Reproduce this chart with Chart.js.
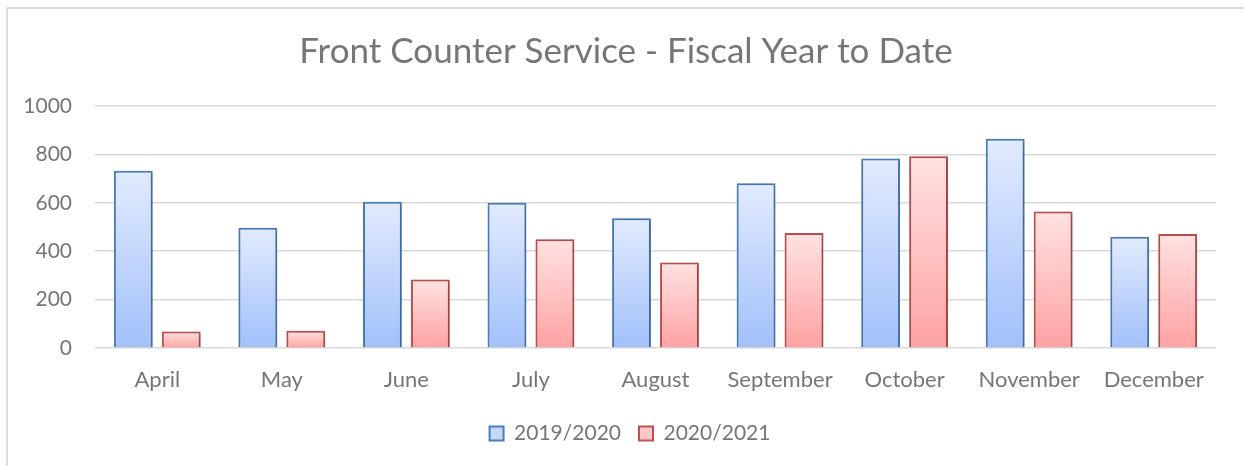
<!DOCTYPE html>
<html>
<head>
<meta charset="utf-8">
<script src="https://cdn.jsdelivr.net/npm/chart.js@4"></script>
<style>
html,body{margin:0;padding:0;background:#fff;}
#wrap{position:relative;width:1244px;height:466px;overflow:hidden;}
#frame{position:absolute;left:6px;top:7px;width:1400px;height:600px;border:2px solid #dcdcdc;box-sizing:border-box;}
canvas{position:absolute;left:0;top:0;}
</style>
</head>
<body>
<div id="wrap">
<div id="frame"></div>
<canvas id="c" width="1244" height="466"></canvas>
</div>
<script>
const categories = ["April","May","June","July","August","September","October","November","December"];
const series2019 = [732, 497, 604, 600, 536, 681, 783, 865, 460];
const series2020 = [68, 71, 283, 449, 353, 475, 792, 564, 471];
const seriesLabels = ["2019/2020", "2020/2021"];
const yTicks = [0, 200, 400, 600, 800, 1000];

const TEXT = '#767676';
const FONT = 'Lato, "Open Sans", sans-serif';

function grad(top, bottom, legendColor) {
  return function(ctx) {
    if (ctx.type !== 'data') return legendColor;
    const ch = ctx.chart, ys = ch.scales.y;
    if (!ys || !ch.chartArea) return legendColor;
    const y0 = ys.getPixelForValue(ctx.raw);
    const y1 = ys.getPixelForValue(0);
    if (!isFinite(y0) || !isFinite(y1) || y0 === y1) return legendColor;
    const g = ch.ctx.createLinearGradient(0, y0, 0, y1);
    g.addColorStop(0, top);
    g.addColorStop(1, bottom);
    return g;
  };
}

const shadowPlugin = {
  id: 'shadow',
  afterLayout(chart) {
    if (chart.legend) { chart.legend.left += 22; chart.legend.right += 22; }
    if (chart.titleBlock) { chart.titleBlock.left += 18; chart.titleBlock.right += 18; }
  },
  beforeDatasetsDraw(chart) {
    const c = chart.ctx;
    c.save();
    c.shadowColor = 'rgba(0,0,0,0.28)';
    c.shadowBlur = 4;
    c.shadowOffsetX = 1;
    c.shadowOffsetY = 1;
  },
  afterDatasetsDraw(chart) { chart.ctx.restore(); }
};

new Chart(document.getElementById('c'), {
  type: 'bar',
  data: {
    labels: categories,
    datasets: [
      {
        label: seriesLabels[0],
        data: series2019,
        backgroundColor: grad('#e1ebfd', '#a2c0fb', '#c6d9fc'),
        borderColor: '#4a7ebb',
        borderWidth: 2,
        borderSkipped: 'bottom',
        categoryPercentage: 0.77,
        barPercentage: 0.81
      },
      {
        label: seriesLabels[1],
        data: series2020,
        backgroundColor: grad('#ffe2e2', '#ffa2a2', '#ffc8c8'),
        borderColor: '#c0504d',
        borderWidth: 2,
        borderSkipped: 'bottom',
        categoryPercentage: 0.77,
        barPercentage: 0.81
      }
    ]
  },
  options: {
    responsive: false,
    animation: false,
    layout: { padding: { left: 0, right: 28, top: 0, bottom: 12 } },
    plugins: {
      tooltip: { enabled: false },
      title: {
        display: true,
        text: 'Front Counter Service - Fiscal Year to Date',
        color: TEXT,
        font: { family: FONT, size: 35, weight: 'normal', lineHeight: 1.2 },
        padding: { top: 31, bottom: 33 }
      },
      legend: {
        position: 'bottom',
        labels: {
          color: TEXT,
          font: { family: FONT, size: 21 },
          boxWidth: 14,
          boxHeight: 14,
          padding: 18,
          generateLabels(chart) {
            return chart.data.datasets.map((ds, i) => ({
              text: ds.label,
              fillStyle: i === 0 ? '#c6d9fc' : '#ffc8c8',
              strokeStyle: ds.borderColor,
              lineWidth: 2,
              hidden: false,
              datasetIndex: i,
              fontColor: TEXT
            }));
          }
        }
      }
    },
    scales: {
      x: {
        grid: { display: false, drawTicks: false },
        border: { display: false },
        ticks: { color: TEXT, font: { family: FONT, size: 22 }, padding: 19, maxRotation: 0 },
        afterFit(s) { s.height = 57; }
      },
      y: {
        min: 0,
        max: 1000,
        afterBuildTicks(s) { s.ticks = yTicks.map(v => ({ value: v })); },
        grid: { color: '#d9d9d9', lineWidth: 1.5, drawTicks: false },
        border: { display: false },
        ticks: { color: TEXT, font: { family: FONT, size: 21 }, padding: 23, callback: v => String(v) },
        afterFit(s) { s.width = 95; }
      }
    }
  },
  plugins: [shadowPlugin]
});
</script>
</body>
</html>
